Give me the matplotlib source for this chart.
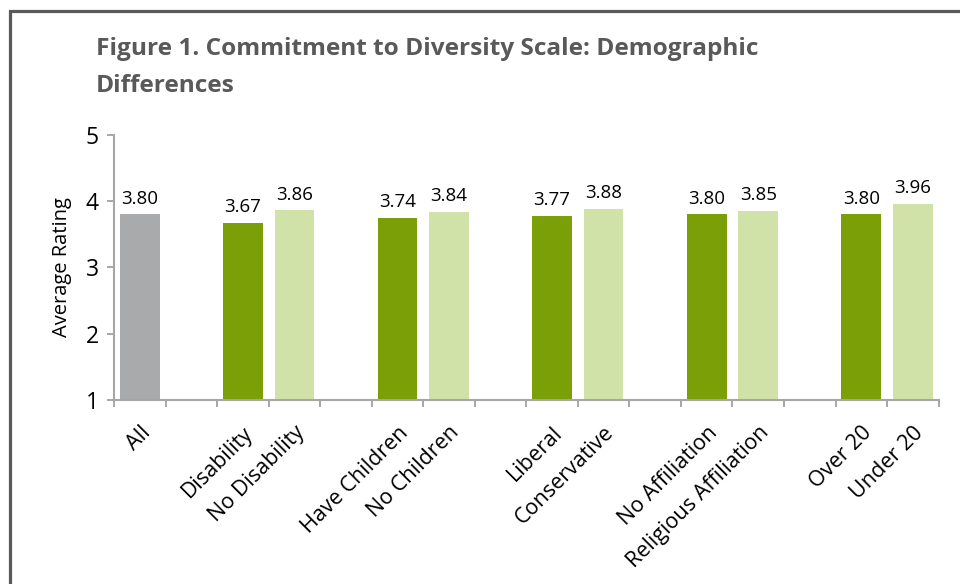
import numpy as np
import matplotlib
matplotlib.use("Agg")
import matplotlib.pyplot as plt
from matplotlib.patches import Rectangle

plt.rcParams['font.family'] = ['Open Sans', 'DejaVu Sans']

# one slot per category, blank slots separate the groups
categories = ['All', '', 'Disability', 'No Disability', '', 'Have Children', 'No Children', '',
              'Liberal', 'Conservative', '', 'No Affiliation', 'Religious Affiliation', '',
              'Over 20', 'Under 20']
ratings = [3.80, np.nan, 3.67, 3.86, np.nan, 3.74, 3.84, np.nan,
           3.77, 3.88, np.nan, 3.80, 3.85, np.nan, 3.80, 3.96]
kinds = ['all', '', 'a', 'b', '', 'a', 'b', '', 'a', 'b', '', 'a', 'b', '', 'a', 'b']

palette = {'all': '#A9AAAC', 'a': '#7A9F07', 'b': '#D0E2A7', '': 'none'}

fig = plt.figure(figsize=(9.6, 5.84), dpi=100)
ax = fig.add_axes([0.11875, 0.315, 0.859, 0.454])

x = np.arange(len(categories))
vals = np.array(ratings)
bar_colors = [palette[k] for k in kinds]
ax.bar(x, vals - 1, bottom=1, width=0.77, color=bar_colors)

for xi, v in zip(x, vals):
    if np.isnan(v):
        continue
    ax.annotate(f'{v:.2f}', (xi, v), xytext=(0, 5), textcoords='offset points',
                ha='center', va='bottom', fontsize=13.5, color='black')

ax.set_xlim(-0.5, len(categories) - 0.5)
ax.set_ylim(1, 5)
ax.set_yticks([1, 2, 3, 4, 5])

ax.set_xticks(x)
ax.set_xticklabels(categories, rotation=45, ha='right', va='top',
                   rotation_mode='anchor', fontsize=15.5)
ax.set_xticks(np.arange(len(categories) + 1) - 0.5, minor=True)
ax.tick_params(axis='x', which='major', length=0, pad=16)
ax.tick_params(axis='x', which='minor', length=5, width=1.3, color='#A0A0A0')
ax.tick_params(axis='y', length=5, width=1.3, color='#A0A0A0', labelsize=16.5, pad=6)

for side in ('top', 'right'):
    ax.spines[side].set_visible(False)
for side in ('left', 'bottom'):
    ax.spines[side].set_color('#A6A6A6')
    ax.spines[side].set_linewidth(1.5)

ax.set_ylabel('Average Rating', fontsize=14.5, labelpad=10)

fig.text(96 / 960, 1 - 37 / 584, 'Figure 1. Commitment to Diversity Scale: Demographic\nDifferences',
         fontsize=17.6, fontweight='bold', color='#595959', ha='left', va='top',
         linespacing=1.75)

# frame around the chart
fig.patches.append(Rectangle((9.5 / 960, -0.1), 1.2, 1 - 10.5 / 584 + 0.1,
                             transform=fig.transFigure, fill=False,
                             edgecolor='#5A5A5E', linewidth=2.3))

fig.savefig('out.png', dpi=100)
